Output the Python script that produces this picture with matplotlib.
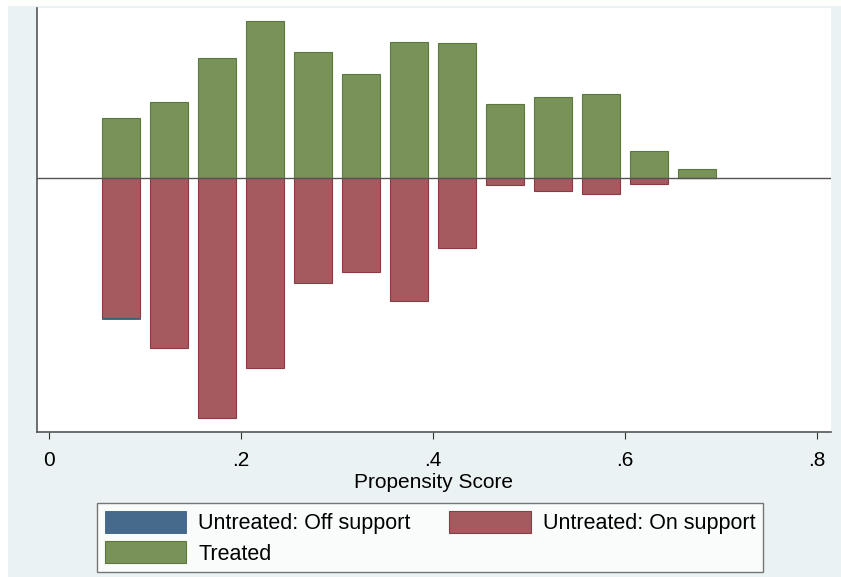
import numpy as np
import matplotlib.pyplot as plt
from matplotlib.patches import Rectangle

plt.rcParams['font.family'] = ['Liberation Sans', 'DejaVu Sans']

# bin centres of the propensity score histogram
bins = [0.075, 0.125, 0.175, 0.225, 0.275, 0.325, 0.375, 0.425,
        0.475, 0.525, 0.575, 0.625, 0.675]
treated = [60, 76, 120, 157, 126, 104, 136, 135, 74, 81, 84, 27, 9]
untreated_on = [140, 170, 240, 190, 105, 94, 123, 70, 7, 13, 16, 6, 0]
untreated_off = [1, 0, 0, 0, 0, 0, 0, 0, 0, 0, 0, 0, 0]

xticks = [0, 0.2, 0.4, 0.6, 0.8]
xticklabels = ['0', '.2', '.4', '.6', '.8']

green = '#78925a'
green_edge = '#5a7a3c'
red = '#a55a5f'
red_edge = '#8c3a44'
blue = '#466a8c'
blue_edge = '#3a5f86'

fig = plt.figure(figsize=(8.41, 5.77), dpi=100)
fig.patches.append(Rectangle((8 / 841, 0), 1, 1 - 6 / 577, transform=fig.transFigure,
                             facecolor='#eaf2f3', edgecolor='none', zorder=-10))
ax = fig.add_axes([37 / 841, 1 - 432 / 577, (831 - 37) / 841, (432 - 8) / 577])

w = 0.04
on = np.array(untreated_on)
off = np.array(untreated_off)
b1 = ax.bar(bins, treated, width=w, color=green, edgecolor=green_edge, linewidth=0.8)
b2 = ax.bar(bins, -on, width=w, color=red, edgecolor=red_edge, linewidth=0.8)
m = off > 0
b3 = ax.bar(np.array(bins)[m], -off[m], bottom=-on[m], width=w,
            color=blue, edgecolor=blue_edge, linewidth=0.6)
ax.axhline(0, color='#555555', linewidth=1)

ax.set_xlim(-0.0125, 0.8146)
ax.set_ylim(-254, 170)
ax.set_xticks(xticks)
ax.set_xticklabels(xticklabels, fontsize=15)
ax.set_yticks([])
ax.tick_params(axis='x', length=5, color='#333333', pad=9)
for s in ['top', 'right']:
    ax.spines[s].set_visible(False)
for s in ['left', 'bottom']:
    ax.spines[s].set_color('#555555')
    ax.spines[s].set_linewidth(1.2)
ax.set_xlabel('Propensity Score', fontsize=15, labelpad=2)

leg = fig.legend([b3, b1, b2],
                 ['Untreated: Off support', 'Treated', 'Untreated: On support'],
                 loc='upper left', bbox_to_anchor=(97 / 841, 1 - 503 / 577),
                 ncol=2, fontsize=15.5, frameon=True, fancybox=False,
                 handlelength=3.8, handleheight=1.2, borderpad=0.35, labelspacing=0.35,
                 handletextpad=0.55, columnspacing=1.8, borderaxespad=0)
leg.get_frame().set_edgecolor('#555555')
leg.get_frame().set_linewidth(1.0)

fig.savefig('out.png', dpi=100, facecolor='white')
